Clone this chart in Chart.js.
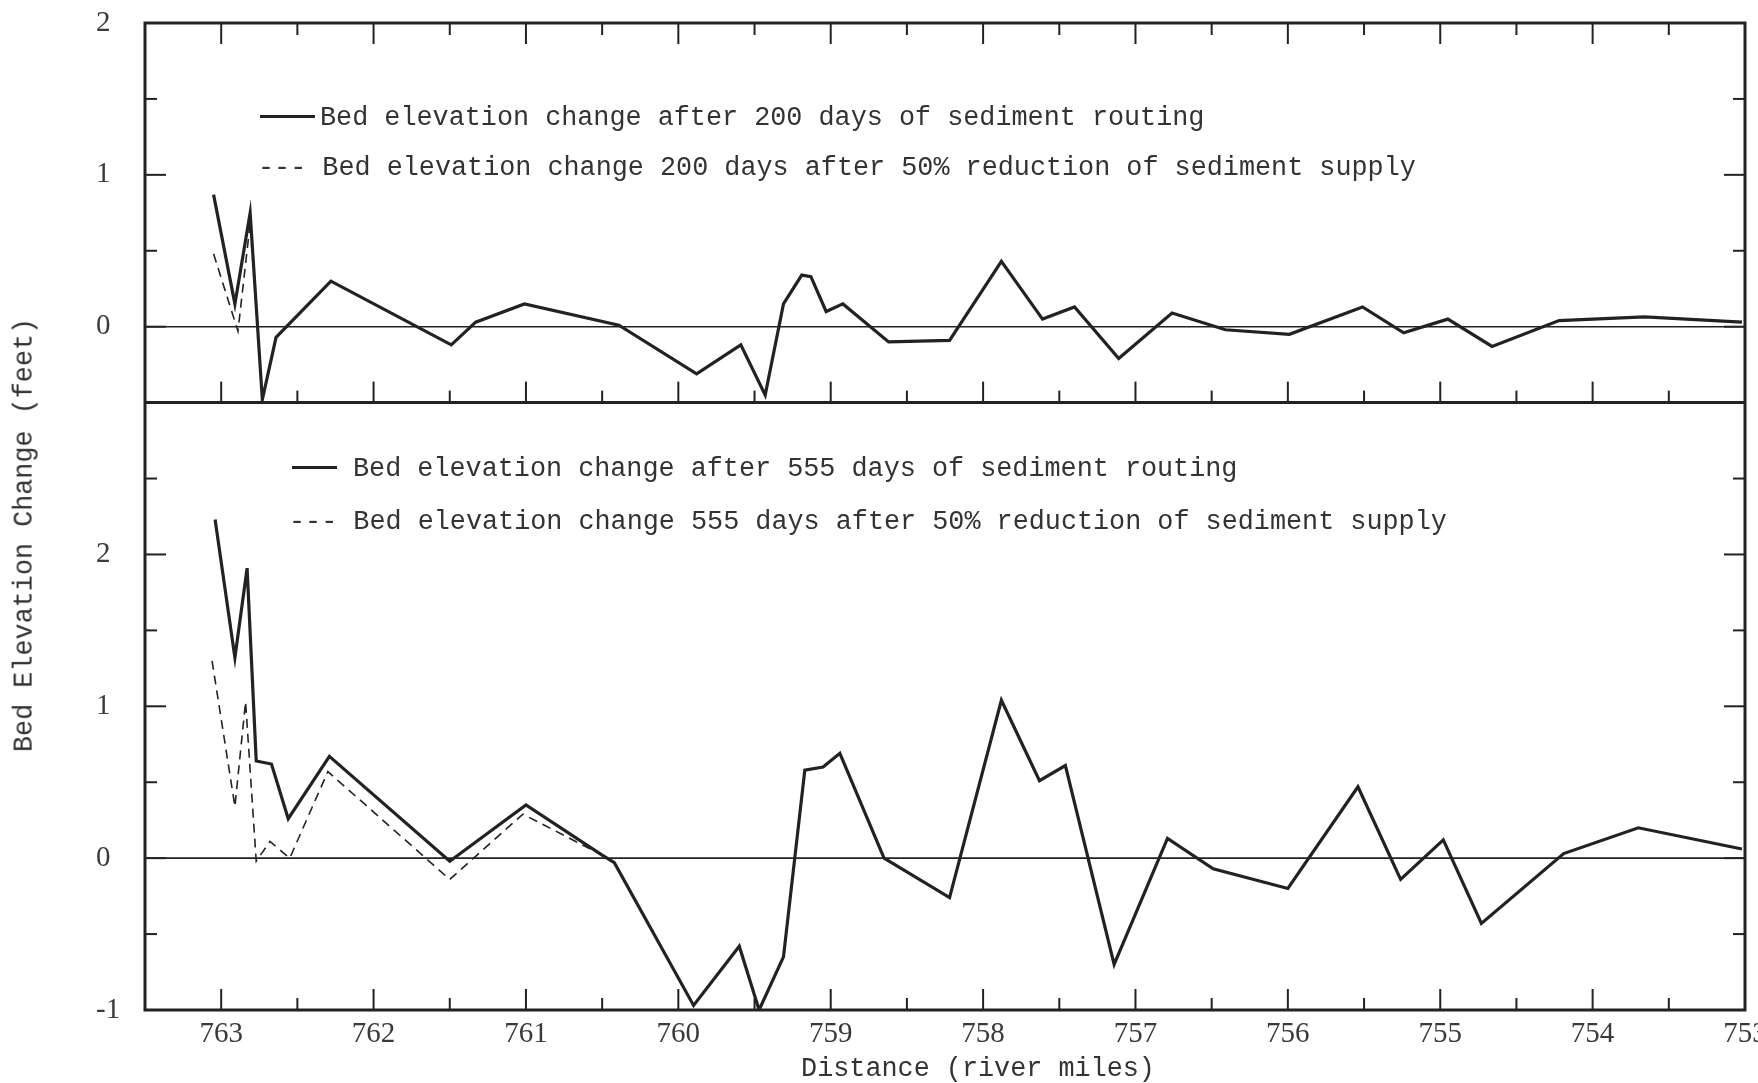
<!DOCTYPE html>
<html>
<head>
<meta charset="utf-8">
<title>Bed elevation change</title>
<script src="https://cdn.jsdelivr.net/npm/chart.js@4.4.1/dist/chart.umd.min.js"></script>
<style>
  html, body { margin: 0; padding: 0; background: #fff; }
  #wrap { position: relative; width: 1758px; height: 1083px; overflow: hidden; }
  #wrap canvas { position: absolute; left: 0; top: 0; }
  .txt { position: absolute; font-family: "Liberation Mono", "DejaVu Sans Mono", monospace; font-size: 26.8px; line-height: 1; color: #333; white-space: pre; }
  .key { position: absolute; height: 3px; background: #222; }
</style>
</head>
<body>
<div id="wrap">
  <canvas id="chart" width="1758" height="1083"></canvas>

  <div class="key" style="left:260px; top:115px; width:55px;"></div>
  <div class="txt" style="left:320px; top:105px;">Bed elevation change after 200 days of sediment routing</div>
  <div class="txt" style="left:258px; top:155px;">--- Bed elevation change 200 days after 50% reduction of sediment supply</div>

  <div class="key" style="left:292px; top:466px; width:45px;"></div>
  <div class="txt" style="left:353px; top:456px;">Bed elevation change after 555 days of sediment routing</div>
  <div class="txt" style="left:289px; top:509px;">--- Bed elevation change 555 days after 50% reduction of sediment supply</div>

  <div class="txt" style="left:25px; top:535px; transform: translate(-50%, -50%) rotate(-90deg);">Bed Elevation Change (feet)</div>
  <div class="txt" style="left:978px; top:1069px; transform: translate(-50%, -50%);">Distance (river miles)</div>
</div>

<script>
// river miles and bed elevation change (feet)

// upper panel: 200 days
const milesTop200 = [763.05, 762.91, 762.81, 762.73, 762.64, 762.28, 761.49, 761.33, 761.01, 760.39,
  759.88, 759.59, 759.43, 759.31, 759.19, 759.13, 759.03, 758.92, 758.62, 758.22,
  757.88, 757.61, 757.40, 757.11, 756.76, 756.41, 755.99, 755.51, 755.24, 754.95,
  754.66, 754.22, 753.66, 753.02];
const bedTop200 = [0.87, 0.15, 0.75, -0.48, -0.07, 0.30, -0.12, 0.03, 0.15, 0.01,
  -0.31, -0.12, -0.45, 0.15, 0.34, 0.33, 0.10, 0.15, -0.10, -0.09,
  0.43, 0.05, 0.13, -0.21, 0.09, -0.02, -0.05, 0.13, -0.04, 0.05,
  -0.13, 0.04, 0.065, 0.03];

const milesTopCut = [763.05, 762.89, 762.81, 762.73];
const bedTopCut = [0.48, -0.03, 0.68, -0.48];

// lower panel: 555 days
const milesBot555 = [763.04, 762.91, 762.83, 762.77, 762.67, 762.56, 762.29, 761.50, 761.00, 760.50,
  760.42, 759.90, 759.60, 759.47, 759.31, 759.17, 759.05, 758.94, 758.65, 758.22,
  757.88, 757.63, 757.46, 757.14, 756.79, 756.49, 756.00, 755.54, 755.26, 754.98,
  754.73, 754.19, 753.70, 753.02];
const bedBot555 = [2.23, 1.32, 1.91, 0.64, 0.62, 0.26, 0.67, -0.02, 0.35, 0.02,
  -0.03, -0.97, -0.58, -1.0, -0.65, 0.58, 0.60, 0.69, 0.0, -0.26,
  1.04, 0.51, 0.61, -0.70, 0.13, -0.07, -0.20, 0.47, -0.14, 0.12,
  -0.43, 0.03, 0.20, 0.06];

const milesBotCut = [763.06, 762.91, 762.84, 762.77, 762.68, 762.55, 762.30, 761.50, 761.02, 760.50, 760.42];
const bedBotCut = [1.30, 0.34, 1.03, -0.02, 0.11, 0.0, 0.57, -0.14, 0.29, 0.02, -0.03];

const ink = '#222';
const tickFont = { family: '"Liberation Serif", "DejaVu Serif", serif', size: 29 };

function pts(xs, ys) {
    return xs.map((m, i) => ({ x: m, y: ys[i] }));
}

function intLabel(v) {
    return Number.isInteger(v) ? String(v) : '';
}

// frame, zero lines and inward tick marks, placed with the chart's own scales
const frame = {
    id: 'frame',
    afterDatasetsDraw(chart) {
        const { ctx, scales } = chart;
        const x = scales.x, yTop = scales.yTop, yBot = scales.yBot;
        const L = x.left, R = x.right;
        const seg = (x1, y1, x2, y2) => {
            ctx.beginPath();
            ctx.moveTo(x1, y1);
            ctx.lineTo(x2, y2);
            ctx.stroke();
        };
        ctx.save();
        ctx.strokeStyle = ink;
        ctx.lineCap = 'butt';

        ctx.lineWidth = 1.6;
        [yTop, yBot].forEach(s => {
            const y0 = s.getPixelForValue(0);
            seg(L, y0, R, y0);
        });

        ctx.lineWidth = 2;
        x.ticks.forEach(t => {
            [t.value, t.value + 0.5].forEach(m => {
                if (m <= x.min || m >= x.max) return;
                const px = x.getPixelForValue(m);
                const len = Number.isInteger(m) ? 21 : 12;
                seg(px, yTop.top, px, yTop.top + len);
                seg(px, yTop.bottom, px, yTop.bottom - len);
                seg(px, yBot.bottom, px, yBot.bottom - len);
            });
        });
        [yTop, yBot].forEach(s => {
            s.ticks.forEach(t => {
                if (t.value <= s.min || t.value >= s.max) return;
                const py = s.getPixelForValue(t.value);
                const len = Number.isInteger(t.value) ? 21 : 12;
                seg(L, py, L + len, py);
                seg(R, py, R - len, py);
            });
        });

        ctx.lineWidth = 3;
        ctx.strokeRect(L, yTop.top, R - L, yBot.bottom - yTop.top);
        seg(L, yTop.bottom, R, yTop.bottom);
        ctx.restore();
    }
};

function yAxis(min, max, weight) {
    return {
        type: 'linear',
        position: 'left',
        stack: 'panels',
        stackWeight: weight,
        min: min,
        max: max,
        grid: { display: false },
        border: { display: false },
        ticks: {
            stepSize: 0.5,
            autoSkip: false,
            crossAlign: 'far',
            color: '#3a3a3a',
            font: tickFont,
            callback: v => (v === 3 ? '' : intLabel(v))
        },
        afterFit(s) {
            s.width = 49;
            s.paddingTop = 0;
            s.paddingBottom = 0;
        }
    };
}

new Chart(document.getElementById('chart'), {
    type: 'line',
    data: {
        datasets: [
            {
                label: 'Bed elevation change after 200 days of sediment routing',
                data: pts(milesTop200, bedTop200),
                yAxisID: 'yTop',
                borderColor: ink,
                borderWidth: 3.2,
                pointRadius: 0,
                tension: 0
            },
            {
                label: 'Bed elevation change 200 days after 50% reduction of sediment supply',
                data: pts(milesTopCut, bedTopCut),
                yAxisID: 'yTop',
                borderColor: ink,
                borderWidth: 1.6,
                borderDash: [9, 6],
                pointRadius: 0,
                tension: 0
            },
            {
                label: 'Bed elevation change after 555 days of sediment routing',
                data: pts(milesBot555, bedBot555),
                yAxisID: 'yBot',
                borderColor: ink,
                borderWidth: 3.2,
                pointRadius: 0,
                tension: 0
            },
            {
                label: 'Bed elevation change 555 days after 50% reduction of sediment supply',
                data: pts(milesBotCut, bedBotCut),
                yAxisID: 'yBot',
                borderColor: ink,
                borderWidth: 1.6,
                borderDash: [9, 6],
                pointRadius: 0,
                tension: 0
            }
        ]
    },
    options: {
        responsive: false,
        animation: false,
        layout: {
            padding: { left: 96, right: 13, top: 23, bottom: 0 }
        },
        plugins: {
            legend: { display: false },
            tooltip: { enabled: false }
        },
        scales: {
            x: {
                type: 'linear',
                reverse: true,
                min: 753,
                max: 763.5,
                grid: { display: false, drawTicks: false },
                border: { display: false },
                ticks: {
                    stepSize: 1,
                    includeBounds: false,
                    autoSkip: false,
                    maxRotation: 0,
                    padding: 7,
                    color: '#3a3a3a',
                    font: tickFont,
                    callback: v => intLabel(v)
                },
                afterFit(s) {
                    s.height = 73;
                    s.paddingLeft = 0;
                    s.paddingRight = 0;
                }
            },
            yBot: yAxis(-1, 3, 4),
            yTop: yAxis(-0.5, 2, 2.5)
        }
    },
    plugins: [frame]
});
</script>
</body>
</html>
